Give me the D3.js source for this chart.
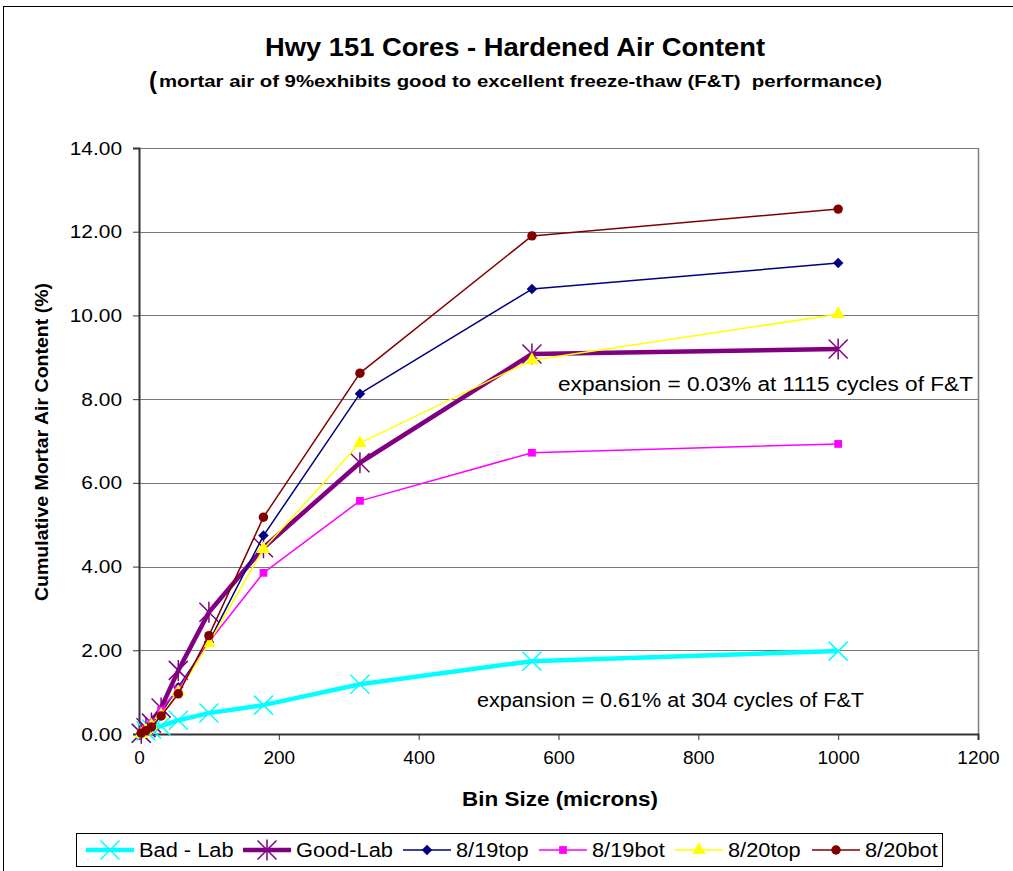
<!DOCTYPE html>
<html>
  <head>
    <meta charset="utf-8" />
    <script src="https://d3js.org/d3.v7.min.js"></script>
    <style>
      body { margin: 0; background: #fff; }
      text { font-family: "Liberation Sans", Arial, sans-serif; }
    </style>
  </head>
  <body>
    <svg id="chart" width="1013" height="871"></svg>

    <script>
      // bin sizes (microns)
      const bins = [3.2, 10, 17.8, 31.6, 56.2, 100, 178, 316, 562, 1000];

      // cumulative mortar air content (%) per series
      const badLab   = [0.02, 0.07, 0.12, 0.19, 0.33, 0.50, 0.69, 1.19, 1.74, 1.98];
      const goodLab  = [0.02, 0.15, 0.26, 0.62, 1.52, 2.91, 4.45, 6.48, 9.08, 9.20];
      const top819   = [0.02, 0.10, 0.25, 0.50, 1.12, 2.20, 4.74, 8.13, 10.63, 11.25];
      const bot819   = [0.03, 0.12, 0.26, 0.57, 1.07, 2.20, 3.85, 5.57, 6.72, 6.93];
      const top820   = [0.00, 0.08, 0.20, 0.45, 1.00, 2.17, 4.42, 6.95, 8.93, 10.03];
      const bot820   = [0.02, 0.08, 0.17, 0.43, 0.96, 2.35, 5.18, 8.62, 11.90, 12.54];

      const seriesNames = ["Bad - Lab", "Good-Lab", "8/19top", "8/19bot", "8/20top", "8/20bot"];
      const xTicks = [0, 200, 400, 600, 800, 1000, 1200];
      const yTicks = [0, 2, 4, 6, 8, 10, 12, 14];

      const series = [
        { name: seriesNames[0], values: badLab,  color: "#00ffff", width: 4.5, marker: "x" },
        { name: seriesNames[1], values: goodLab, color: "#800080", width: 4.5, marker: "star" },
        { name: seriesNames[2], values: top819,  color: "#000080", width: 1.5, marker: "diamond" },
        { name: seriesNames[3], values: bot819,  color: "#ff00ff", width: 1.5, marker: "square" },
        { name: seriesNames[4], values: top820,  color: "#ffff00", width: 1.5, marker: "triangle" },
        { name: seriesNames[5], values: bot820,  color: "#800000", width: 1.5, marker: "circle" }
      ];

      const svg = d3.select("#chart");
      const margin = { left: 139, right: 35, top: 148, bottom: 137 };
      const width = 1013, height = 871;

      const x = d3.scaleLinear().domain([0, 1200]).range([margin.left, width - margin.right]);
      const y = d3.scaleLinear().domain([0, 14]).range([height - margin.bottom, margin.top]);

      // the original text is a bit wider than Arial, so stretch it a little
      function stretch(sel, factor) {
        sel.each(function () {
          const w = this.getComputedTextLength();
          d3.select(this).attr("textLength", w * factor).attr("lengthAdjust", "spacingAndGlyphs");
        });
      }

      // outer chart border
      svg.append("rect")
        .attr("x", 3.5).attr("y", 6.5)
        .attr("width", 1030).attr("height", 900)
        .attr("fill", "none").attr("stroke", "#000");

      // gridlines
      svg.append("g")
        .selectAll("line")
        .data(yTicks.slice(1))
        .join("line")
        .attr("x1", x(0)).attr("x2", x(1200))
        .attr("y1", d => Math.round(y(d)) + 0.5).attr("y2", d => Math.round(y(d)) + 0.5)
        .attr("stroke", "#777");

      // right plot border
      svg.append("line")
        .attr("x1", Math.round(x(1200)) + 0.5).attr("x2", Math.round(x(1200)) + 0.5)
        .attr("y1", y(14)).attr("y2", y(0))
        .attr("stroke", "#808080").attr("stroke-width", 1.5);

      // axes
      const xAxis = svg.append("g")
        .attr("transform", `translate(0,${y(0)})`)
        .call(d3.axisBottom(x).tickValues(xTicks).tickSize(6).tickPadding(8).tickFormat(d3.format("d")));
      const yAxis = svg.append("g")
        .attr("transform", `translate(${x(0)},0)`)
        .call(d3.axisLeft(y).tickValues(yTicks).tickSize(6).tickPadding(11).tickFormat(d3.format(".2f")));

      [xAxis, yAxis].forEach(g => {
        g.select(".domain").attr("stroke", "#333").attr("stroke-width", 2);
        g.selectAll(".tick line").attr("stroke", "#333");
        g.selectAll(".tick text")
          .attr("fill", "#000")
          .style("font-family", "'Liberation Sans', Arial, sans-serif")
          .style("font-size", "19px");
      });
      xAxis.selectAll(".tick text").attr("dy", "0.85em");
      stretch(yAxis.selectAll(".tick text"), 1.1);

      // marker shapes
      const sym = {
        diamond: d3.symbol().type(d3.symbolDiamond2).size(70),
        square: d3.symbol().type(d3.symbolSquare).size(60),
        triangle: d3.symbol().type(d3.symbolTriangle).size(80),
        circle: d3.symbol().type(d3.symbolCircle).size(70)
      };

      function drawMarker(g, s, cx, cy) {
        if (s.marker === "x") {
          const r = 9.5;
          g.append("path")
            .attr("d", `M${cx - r},${cy - r}L${cx + r},${cy + r}M${cx - r},${cy + r}L${cx + r},${cy - r}`)
            .attr("stroke", s.color).attr("stroke-width", 1.5).attr("fill", "none");
        } else if (s.marker === "star") {
          const r = 9.5;
          g.append("path")
            .attr("d", `M${cx - r},${cy - r}L${cx + r},${cy + r}M${cx - r},${cy + r}L${cx + r},${cy - r}M${cx},${cy - r - 1}L${cx},${cy + r + 1}`)
            .attr("stroke", s.color).attr("stroke-width", 1.5).attr("fill", "none");
        } else {
          g.append("path")
            .attr("d", sym[s.marker]())
            .attr("transform", `translate(${cx},${cy})`)
            .attr("fill", s.color);
        }
      }

      const line = d3.line().x((d, i) => x(bins[i])).y(d => y(d));

      series.forEach(s => {
        const g = svg.append("g");
        g.append("path")
          .datum(s.values)
          .attr("d", line)
          .attr("fill", "none")
          .attr("stroke", s.color)
          .attr("stroke-width", s.width)
          .attr("stroke-linejoin", "round");
        s.values.forEach((v, i) => drawMarker(g, s, x(bins[i]), y(v)));
      });

      // titles
      svg.append("text")
        .attr("x", 515).attr("y", 56)
        .attr("text-anchor", "middle")
        .attr("textLength", 500).attr("lengthAdjust", "spacingAndGlyphs")
        .style("font-size", "25px").style("font-weight", "bold")
        .text("Hwy 151 Cores - Hardened Air Content");

      svg.append("text")
        .attr("x", 149).attr("y", 89)
        .style("font-size", "24px").style("font-weight", "bold")
        .text("(");
      svg.append("text")
        .attr("x", 159).attr("y", 87)
        .attr("textLength", 723).attr("lengthAdjust", "spacingAndGlyphs")
        .style("font-size", "17px").style("font-weight", "bold")
        .attr("xml:space", "preserve")
        .text("mortar air of 9%exhibits good to excellent freeze-thaw (F&T)  performance)");

      svg.append("text")
        .attr("x", 560).attr("y", 806)
        .attr("text-anchor", "middle")
        .attr("textLength", 196).attr("lengthAdjust", "spacingAndGlyphs")
        .style("font-size", "20px").style("font-weight", "bold")
        .text("Bin Size (microns)");

      svg.append("text")
        .attr("transform", `translate(48,${(y(0) + y(14)) / 2 + 1}) rotate(-90)`)
        .attr("text-anchor", "middle")
        .attr("textLength", 318).attr("lengthAdjust", "spacingAndGlyphs")
        .style("font-size", "18px").style("font-weight", "bold")
        .text("Cumulative Mortar Air Content (%)");

      // annotations
      svg.append("text")
        .attr("x", 558).attr("y", 391)
        .attr("textLength", 415).attr("lengthAdjust", "spacingAndGlyphs")
        .style("font-size", "20px")
        .text("expansion = 0.03% at 1115 cycles of F&T");
      svg.append("text")
        .attr("x", 477).attr("y", 707)
        .attr("textLength", 387).attr("lengthAdjust", "spacingAndGlyphs")
        .style("font-size", "20px")
        .text("expansion = 0.61% at 304 cycles of F&T");

      // legend
      const legend = svg.append("g");
      legend.append("rect")
        .attr("x", 76.5).attr("y", 833.5)
        .attr("width", 866).attr("height", 33)
        .attr("fill", "#fff").attr("stroke", "#000");
      const legendX = [86, 243, 403, 539, 675, 812];
      series.forEach((s, i) => {
        const lx = legendX[i], ly = 850;
        legend.append("line")
          .attr("x1", lx).attr("x2", lx + 48)
          .attr("y1", ly).attr("y2", ly)
          .attr("stroke", s.color).attr("stroke-width", s.width);
        drawMarker(legend, s, lx + 24, ly);
        legend.append("text")
          .attr("x", lx + 53).attr("y", ly + 7)
          .style("font-size", "20px")
          .text(s.name);
      });
      stretch(legend.selectAll("text"), 1.09);
    </script>
  </body>
</html>
